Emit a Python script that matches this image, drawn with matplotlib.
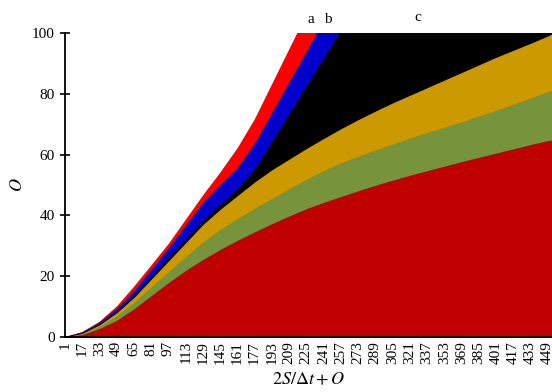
import numpy as np
import matplotlib.pyplot as plt

plt.rcParams['font.family'] = ['Liberation Serif', 'DejaVu Serif']
plt.rcParams['mathtext.fontset'] = 'stix'

# x positions (2S/dt + O); last point is the right edge of the plot
x = [1, 17, 33, 49, 65, 81, 97, 113, 129, 145, 161, 177, 193, 209, 225,
     241, 257, 273, 289, 305, 321, 337, 353, 369, 385, 401, 417, 433, 449, 453]
tick_labels = [str(v) for v in range(1, 450, 16)]

# curves (values above 100 are cut by the axis)
curve_a = [0, 1.6, 5, 10, 16.5, 23.5, 30.5, 38.5, 46.5, 54, 62, 71.5, 83, 94.5, 106,
           117, 128, 139, 150, 161, 172, 183, 194, 205, 216, 227, 238, 249, 260, 263]
curve_b = [0, 1.5, 4.6, 9.2, 15, 22, 29, 36.5, 44, 50, 55.5, 63.5, 73.5, 83.6, 93.6,
           103.7, 113.7, 124, 134, 144, 154, 164, 174, 184, 194, 204, 214, 224, 234, 237]
curve_c = [0, 1.3, 4.2, 8.3, 13.5, 19.7, 26, 32, 38, 43.5, 48.5, 55, 64, 73.2, 82.4,
           91.5, 100.7, 110, 119, 128, 137, 146, 155, 164, 173, 182, 191, 200, 209, 211]
curve_gold = [0, 1.2, 4, 8, 13, 19, 25, 31, 37, 42, 46.5, 51, 55, 58.5, 62,
              65.3, 68.5, 71.5, 74.3, 77, 79.5, 82, 84.5, 87, 89.5, 92, 94.3, 96.6, 99, 99.7]
curve_green = [0, 1.0, 3.5, 7, 11.5, 16.5, 21.5, 26.5, 31.3, 35.4, 39, 42.4, 45.6, 48.8, 51.9,
               54.8, 57.3, 59.5, 61.5, 63.5, 65.5, 67.3, 69, 70.8, 72.7, 74.6, 76.6, 78.6, 80.8, 81.3]
curve_red = [0, 0.8, 2.8, 5.5, 9.3, 13.6, 17.9, 21.9, 25.5, 28.8, 31.8, 34.6, 37.3, 39.8, 42.2,
             44.3, 46.2, 48.1, 49.9, 51.6, 53.2, 54.7, 56.2, 57.7, 59.1, 60.5, 61.9, 63.3, 64.6, 64.8]

series = [
    (curve_a, '#ff0000'),
    (curve_b, '#0000cc'),
    (curve_c, '#000000'),
    (curve_gold, '#cc9900'),
    (curve_green, '#77933c'),
    (curve_red, '#c00000'),
]

fig = plt.figure(figsize=(5.52, 3.92), dpi=100)
ax = fig.add_axes([65 / 552, 55 / 392, 487 / 552, 304 / 392])

for vals, col in series:
    ax.fill_between(x, 0, vals, color=col, linewidth=0)

ax.set_xlim(1, 453)
ax.set_ylim(0, 100)
ax.set_yticks([0, 20, 40, 60, 80, 100])
ax.set_xticks(list(range(1, 450, 16)))
ax.set_xticklabels(tick_labels, rotation=90, fontsize=11)
ax.tick_params(axis='x', length=0, pad=3)
ax.tick_params(axis='y', direction='inout', length=7, width=1.2, labelsize=11, pad=4)

for s in ['top', 'right']:
    ax.spines[s].set_visible(False)
ax.spines['left'].set_linewidth(1.3)
ax.spines['bottom'].set_linewidth(1.3)

ax.set_xlabel(r'$2S/\Delta t + O$', fontsize=13, labelpad=5)
ax.set_ylabel(r'$O$', fontsize=13, labelpad=4)

ax.text(229.6, 104.3, 'a', ha='center', va='center', fontsize=11, clip_on=False)
ax.text(244.5, 104.3, 'b', ha='center', va='center', fontsize=11, clip_on=False)
ax.text(328, 105, 'c', ha='center', va='center', fontsize=11, clip_on=False)

fig.savefig('out.png', dpi=100)
